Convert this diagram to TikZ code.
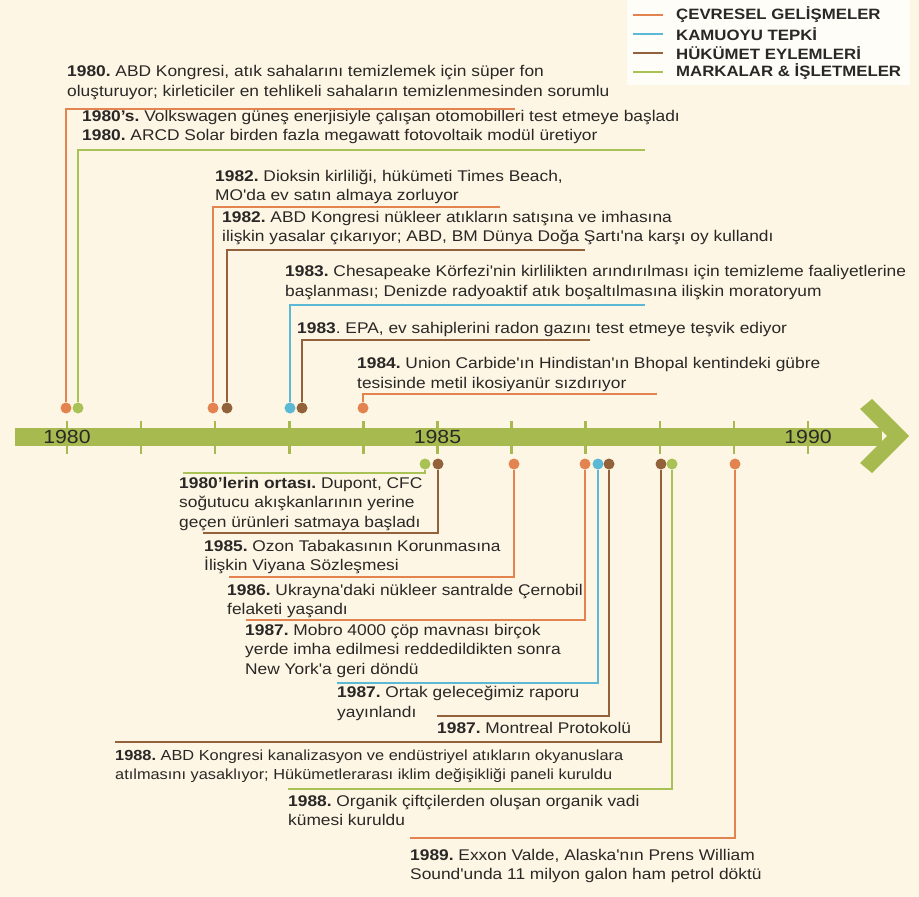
\documentclass[tikz,border=0pt]{standalone}
\usepackage{fontspec}
\newfontfamily\metinfont{Liberation Sans}[FakeStretch=1.12]
\usepackage{xcolor}
\usepackage{tikz}

\definecolor{zemin}{HTML}{FDF6E4}
\definecolor{lejantzemin}{HTML}{FFFDF7}
\definecolor{cevre}{HTML}{E3834F}
\definecolor{kamu}{HTML}{5CB9D6}
\definecolor{hukumet}{HTML}{93623B}
\definecolor{marka}{HTML}{A8C256}
\definecolor{eksen}{HTML}{A7BA4F}
\definecolor{metin}{HTML}{2A2826}

\begin{document}
\begin{tikzpicture}[x=1pt, y=-1pt,
	olay/.style={
		anchor=north west, align=left, inner sep=0pt, text=metin,
		font=\metinfont\frenchspacing\fontsize{15.5}{19.5}\selectfont,
		execute at begin node=\strut
	},
	nokta/.style={circle, inner sep=0pt, minimum size=11pt},
	hat/.style={line width=2pt},
	yil/.style={font=\metinfont\fontsize{19}{19}\selectfont, text=metin},
	lejant/.style={
		anchor=west, inner sep=0pt, text=metin,
		font=\metinfont\bfseries\fontsize{15}{15}\selectfont
	}
	]
	
	\useasboundingbox (0,0) rectangle (919,897);
	\fill[zemin] (0,0) rectangle (919,897);
	
	%==================== lejant ====================
	\fill[lejantzemin] (627,0) rectangle (910,85);
	\foreach \renk/\ad [count=\k] in {cevre/ÇEVRESEL GELİŞMELER, kamu/KAMUOYU TEPKİ,
		hukumet/HÜKÜMET EYLEMLERİ, marka/MARKALAR \& İŞLETMELER} {
		\draw[hat, \renk] (633,{-4+19*\k}) -- (663,{-4+19*\k});
		\node[lejant] (lj\k) at (676,{-4+19*\k}) {\ad};
	}
	
	%==================== zaman ekseni ====================
	\fill[eksen] (15,428) rectangle (882,446);
	\fill[eksen] (860,409) -- (872,399) -- (909,436) -- (872,473) -- (860,463) -- (887,436) -- cycle;
	\foreach \i in {0,...,10}
	\draw[eksen, line width=2.5pt] ({67+74.1*\i},421) -- ({67+74.1*\i},454);
	
	\node[yil] (y1980) at (67,437) {1980};
	\node[yil] (y1985) at (437.5,437) {1985};
	\node[yil] (y1990) at (808,437) {1990};
	
	%==================== noktalar ====================
	% eksenin ustu
	\node[nokta, fill=cevre] (n1) at (66,408) {};
	\node[nokta, fill=marka] (n2) at (78,408) {};
	\node[nokta, fill=cevre] (n3) at (213,408) {};
	\node[nokta, fill=hukumet] (n4) at (227,408) {};
	\node[nokta, fill=kamu] (n5) at (290,408) {};
	\node[nokta, fill=hukumet] (n6) at (302,408) {};
	\node[nokta, fill=cevre] (n7) at (363,408) {};
	% eksenin alti
	\node[nokta, fill=marka] (n8) at (425,464) {};
	\node[nokta, fill=hukumet] (n9) at (438,464) {};
	\node[nokta, fill=cevre] (n10) at (514,464) {};
	\node[nokta, fill=cevre] (n11) at (585,464) {};
	\node[nokta, fill=kamu] (n12) at (598,464) {};
	\node[nokta, fill=hukumet] (n13) at (609,464) {};
	\node[nokta, fill=hukumet] (n14) at (661,464) {};
	\node[nokta, fill=marka] (n15) at (672,464) {};
	\node[nokta, fill=cevre] (n16) at (735,464) {};
	
	%==================== olaylar ====================
	\node[olay] (t1) at (67,65.5) {\textbf{1980.} ABD Kongresi, atık sahalarını temizlemek için süper fon\\
		oluşturuyor; kirleticiler en tehlikeli sahaların temizlenmesinden sorumlu};
	\node[olay] (t2) at (82,110) {\textbf{1980’s.} Volkswagen güneş enerjisiyle çalışan otomobilleri test etmeye başladı\\
		\textbf{1980.} ARCD Solar birden fazla megawatt fotovoltaik modül üretiyor};
	\node[olay] (t3) at (215,169.5) {\textbf{1982.} Dioksin kirliliği, hükümeti Times Beach,\\
		MO'da ev satın almaya zorluyor};
	\node[olay] (t4) at (222,211) {\textbf{1982.} ABD Kongresi nükleer atıkların satışına ve imhasına\\
		ilişkin yasalar çıkarıyor; ABD, BM Dünya Doğa Şartı'na karşı oy kullandı};
	\node[olay] (t5) at (285,265.5) {\textbf{1983.} Chesapeake Körfezi'nin kirlilikten arındırılması için temizleme faaliyetlerine\\
		başlanması; Denizde radyoaktif atık boşaltılmasına ilişkin moratoryum};
	\node[olay] (t6) at (297,319.5) {\textbf{1983}. EPA, ev sahiplerini radon gazını test etmeye teşvik ediyor};
	\node[olay] (t7) at (357,357.5) {\textbf{1984.} Union Carbide'ın Hindistan'ın Bhopal kentindeki gübre\\
		tesisinde metil ikosiyanür sızdırıyor};
	
	\node[olay] (t8) at (179,477) {\textbf{1980’lerin ortası.} Dupont, CFC\\
		soğutucu akışkanlarının yerine\\
		geçen ürünleri satmaya başladı};
	\node[olay] (t9) at (204,540) {\textbf{1985.} Ozon Tabakasının Korunmasına\\
		İlişkin Viyana Sözleşmesi};
	\node[olay] (t10) at (227,584) {\textbf{1986.} Ukrayna'daki nükleer santralde Çernobil\\
		felaketi yaşandı};
	\node[olay] (t11) at (245,624) {\textbf{1987.} Mobro 4000 çöp mavnası birçok\\
		yerde imha edilmesi reddedildikten sonra\\
		New York'a geri döndü};
	\node[olay] (t12) at (337,686) {\textbf{1987.} Ortak geleceğimiz raporu\\
		yayınlandı};
	\node[olay] (t13) at (437,720) {\textbf{1987.} Montreal Protokolü};
	\node[olay, font=\metinfont\frenchspacing\fontsize{14.6}{19.5}\selectfont] (t14) at (115,749.5)
		{\textbf{1988.} ABD Kongresi kanalizasyon ve endüstriyel atıkların okyanuslara\\
		atılmasını yasaklıyor; Hükümetlerarası iklim değişikliği paneli kuruldu};
	\node[olay] (t15) at (288,795) {\textbf{1988.} Organik çiftçilerden oluşan organik vadi\\
		kümesi kuruldu};
	\node[olay] (t16) at (410,849) {\textbf{1989.} Exxon Valde, Alaska'nın Prens William\\
		Sound'unda 11 milyon galon ham petrol döktü};
	
	%==================== baglantilar ====================
	\coordinate (u1) at (515,108.5);
	\coordinate (u2) at (645,150);
	\coordinate (u3) at (500,207);
	\coordinate (u4) at (585,250);
	\coordinate (u5) at (645,305);
	\coordinate (u6) at (590,340);
	\coordinate (u7) at (657,394);
	\coordinate (u8) at (183,473);
	\coordinate (u9) at (203,533);
	\coordinate (u10) at (229,577);
	\coordinate (u11) at (246,620);
	\coordinate (u12) at (337,683);
	\coordinate (u13) at (437,716);
	\coordinate (u14) at (115,742);
	\coordinate (u15) at (288,789);
	\coordinate (u16) at (410,838);
	
	\draw[hat, cevre] (n1) |- (u1);
	\draw[hat, marka] (n2) |- (u2);
	\draw[hat, cevre] (n3) |- (u3);
	\draw[hat, hukumet] (n4) |- (u4);
	\draw[hat, kamu] (n5) |- (u5);
	\draw[hat, hukumet] (n6) |- (u6);
	\draw[hat, cevre] (n7) |- (u7);
	\draw[hat, marka] (n8) |- (u8);
	\draw[hat, hukumet] (n9) |- (u9);
	\draw[hat, cevre] (n10) |- (u10);
	\draw[hat, cevre] (n11) |- (u11);
	\draw[hat, kamu] (n12) |- (u12);
	\draw[hat, hukumet] (n13) |- (u13);
	\draw[hat, hukumet] (n14) |- (u14);
	\draw[hat, marka] (n15) |- (u15);
	\draw[hat, cevre] (n16) |- (u16);
	
\end{tikzpicture}
\end{document}
